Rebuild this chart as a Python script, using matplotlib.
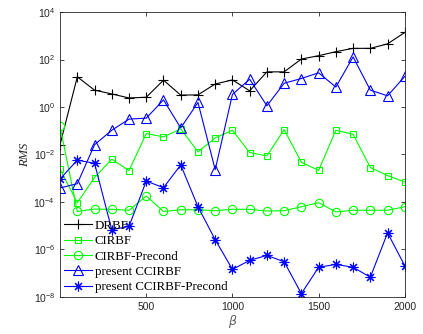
import matplotlib
matplotlib.use("Agg")
import matplotlib.pyplot as plt
import numpy as np

beta = list(range(0, 2001, 100))

# log10(RMS)
drbf = [-1.58, 1.27, 0.71, 0.55, 0.38, 0.41, 1.13, 0.50, 0.51, 0.97, 1.14,
        0.68, 1.48, 1.48, 2.02, 2.16, 2.33, 2.47, 2.47, 2.66, 3.14]
cirbf = [-2.62, -4.03, -2.97, -2.20, -2.68, -1.12, -1.26, -0.92, -1.89, -1.30, -0.98,
         -1.92, -2.06, -0.95, -2.33, -2.67, -0.98, -1.15, -2.55, -2.89, -3.16]
cirbf_pre = [-0.82, -4.40, -4.30, -4.31, -4.35, -3.75, -4.40, -4.33, -4.33, -4.37, -4.31,
             -4.31, -4.38, -4.37, -4.20, -4.03, -4.42, -4.35, -4.35, -4.35, -4.20]
ccirbf = [-3.41, -3.23, -1.59, -0.98, -0.51, -0.47, 0.30, -0.88, 0.19, -2.64, 0.53,
          1.17, 0.05, 1.00, 1.20, 1.44, 0.84, 2.11, 0.71, 0.47, 1.29]
ccirbf_pre = [-3.03, -2.24, -2.37, -5.17, -5.03, -3.12, -3.40, -2.44, -4.20, -5.59, -6.84,
              -6.46, -6.25, -6.52, -7.86, -6.75, -6.63, -6.75, -7.17, -5.30, -6.69]

series = [
    ("DRBF", drbf, "k", "+", 7),
    ("CIRBF", cirbf, (0, 1, 0), "s", 5),
    ("CIRBF-Precond", cirbf_pre, (0, 1, 0), "o", 6),
    ("present CCIRBF", ccirbf, (0, 0, 1), "^", 7.5),
    ("present CCIRBF-Precond", ccirbf_pre, (0, 0, 1), (8, 2, 0), 7),
]

fig = plt.figure(figsize=(4.23, 3.34), dpi=100)
ax = fig.add_axes([0.142, 0.111, 0.815, 0.853])

for name, vals, col, mk, ms in series:
    ax.plot(beta, 10 ** np.array(vals), color=col, marker=mk, markersize=ms,
            markerfacecolor="none", markeredgecolor=col, markeredgewidth=0.8,
            linewidth=0.8, label=name)

ax.set_yscale("log")
ax.set_xlim(0, 2000)
ax.set_ylim(1e-8, 1e4)
ax.set_xticks([500, 1000, 1500, 2000])
ax.set_yticks([1e-8, 1e-6, 1e-4, 1e-2, 1e0, 1e2, 1e4])
ax.yaxis.set_minor_locator(matplotlib.ticker.NullLocator())
ax.tick_params(direction="in", top=True, right=True, labelsize=7.5, length=3,
               width=0.6, colors="#262626", labelcolor="#262626")
for lab in ax.get_xticklabels() + ax.get_yticklabels():
    lab.set_fontfamily("Liberation Sans")
for sp in ax.spines.values():
    sp.set_linewidth(0.6)
    sp.set_color("#262626")

ax.set_xlabel(r"$\beta$", fontsize=9, color="#606060", labelpad=1)
ax.set_ylabel("RMS", fontsize=9, fontstyle="italic", fontfamily="Liberation Serif",
              color="#262626", labelpad=2)

ax.legend(loc="lower left", frameon=False, prop={"family": "Liberation Serif", "size": 9.3},
          handlelength=2.2, handletextpad=0.2, labelspacing=0.25,
          borderaxespad=0.1, borderpad=0.2)

fig.savefig("out.png", dpi=100)
